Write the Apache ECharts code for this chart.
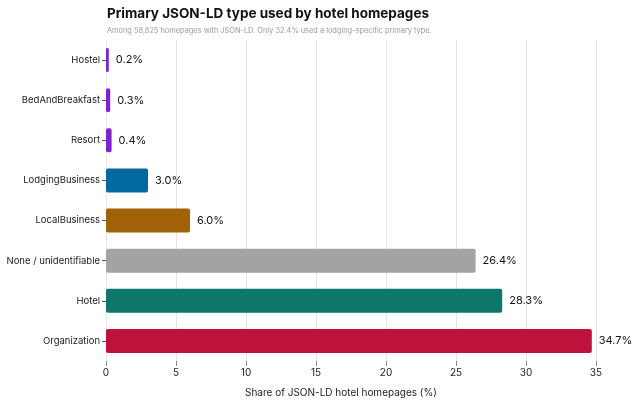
<!DOCTYPE html>
<html>
<head>
<meta charset="utf-8">
<script src="https://cdn.jsdelivr.net/npm/echarts@6/dist/echarts.min.js"></script>
<style>
  html, body { margin: 0; padding: 0; background: #fff; }
  #chart { width: 643px; height: 403px; }
</style>
</head>
<body>
<div id="chart"></div>
<script>
// categories listed bottom to top (ECharts category y axis starts at the bottom)
const categories = ['Organization', 'Hotel', 'None / unidentifiable', 'LocalBusiness',
  'LodgingBusiness', 'Resort', 'BedAndBreakfast', 'Hostel'];
const shares = [34.7, 28.3, 26.4, 6.0, 3.0, 0.4, 0.3, 0.2];
const barColors = ['#be123c', '#0f766e', '#a3a3a3', '#a16207',
  '#0369a1', '#7e22ce', '#7e22ce', '#7e22ce'];
const xTicks = [0, 5, 10, 15, 20, 25, 30, 35];

const font = 'Inter, "Noto Sans", sans-serif';
const chart = echarts.init(document.getElementById('chart'));

chart.setOption({
  animation: false,
  title: {
    text: 'Primary JSON-LD type used by hotel homepages',
    subtext: 'Among 58,825 homepages with JSON-LD. Only 32.4% used a lodging-specific primary type.',
    left: 102,
    top: 2,
    itemGap: 6,
    textStyle: { fontFamily: font, fontSize: 13.5, fontWeight: 'bold', color: '#111' },
    subtextStyle: { fontFamily: font, fontSize: 7.4, color: '#9a9a9a' },
  },
  grid: { left: 106, right: 47, top: 40, bottom: 42, containLabel: false },
  xAxis: {
    type: 'value',
    min: xTicks[0],
    max: xTicks[xTicks.length - 1],
    interval: 5,
    name: 'Share of JSON-LD hotel homepages (%)',
    nameLocation: 'middle',
    nameGap: 27,
    nameTextStyle: { fontFamily: font, fontSize: 10, color: '#222', padding: [0, 20, 0, 0] },
    axisLine: { show: false },
    axisTick: { show: true, length: 5, lineStyle: { color: '#888' } },
    axisLabel: { fontFamily: font, fontSize: 10, color: '#222', margin: 7 },
    splitLine: { show: true, lineStyle: { color: '#e4e4e4', width: 1 } },
  },
  yAxis: {
    type: 'category',
    data: categories,
    axisLine: { show: false },
    axisTick: { show: true, length: 4, alignWithLabel: true, lineStyle: { color: '#555' } },
    axisLabel: { fontFamily: font, fontSize: 9.5, color: '#222', margin: 6 },
  },
  series: [{
    type: 'bar',
    barWidth: '60%',
    data: shares.map((v, i) => ({
      value: v,
      itemStyle: { color: barColors[i], borderRadius: 2 },
    })),
    label: {
      show: true,
      position: 'right',
      distance: 7,
      fontFamily: font,
      fontSize: 11,
      color: '#111',
      formatter: (p) => p.value.toFixed(1) + '%',
    },
  }],
});
</script>
</body>
</html>
